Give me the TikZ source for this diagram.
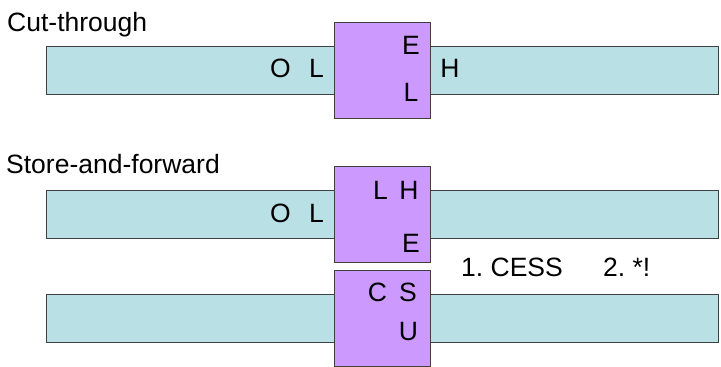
\documentclass[tikz,border=0pt]{standalone}
\usepackage{fontspec}
\setmainfont{Liberation Sans}
\frenchspacing
\definecolor{wirecol}{RGB}{185,224,228}
\definecolor{switchcol}{RGB}{204,153,255}
\definecolor{edgecol}{RGB}{64,64,64}
\begin{document}
\begin{tikzpicture}[x=1pt, y=-1pt,
    wire/.style={rectangle, draw=edgecol, line width=0.9pt, fill=wirecol, minimum width=672pt, minimum height=48pt, inner sep=0pt},
    switchbox/.style={rectangle, draw=edgecol, line width=0.9pt, fill=switchcol, minimum width=96pt, minimum height=96pt, inner sep=0pt},
    letter/.style={inner sep=0pt, font=\fontsize{26.5}{31}\selectfont},
    title/.style={inner sep=0pt, anchor=base west, font=\fontsize{26.5}{31}\selectfont}]

  \useasboundingbox (0,0) rectangle (721,367);

  % cut-through
  \node[title] (t1) at (7,31) {Cut-through};
  \node[wire] (w1) at (382,70) {};
  \node[switchbox] (s1) at (382,70.5) {};
  \node[letter] (o1) at (280.5,68.5) {O};
  \node[letter] (l1) at (316.5,68.5) {L};
  \node[letter] (e1) at (411,45.5) {E};
  \node[letter] (l2) at (411,92.5) {L};
  \node[letter] (h1) at (450,68) {H};

  % store-and-forward
  \node[title] (t2) at (6,173) {Store-and-forward};
  \node[wire] (w2) at (382,214) {};
  \node[wire] (w3) at (382,318) {};
  \node[switchbox] (s2) at (382,214) {};
  \node[switchbox] (s3) at (382,318) {};
  \node[letter] (o2) at (280.5,213.5) {O};
  \node[letter] (l3) at (316.5,213.5) {L};
  \node[letter] (l4) at (380.5,190.5) {L};
  \node[letter] (h2) at (409,190.5) {H};
  \node[letter] (e2) at (411,243) {E};
  \node[letter] (c1) at (377.5,292.5) {C};
  \node[letter] (s4) at (408,292.5) {S};
  \node[letter] (u1) at (408.5,331.5) {U};
  \node[letter, anchor=west] (m1) at (461,267) {1. CESS};
  \node[letter, anchor=west] (m2) at (603,267) {2. *!};

\end{tikzpicture}
\end{document}
